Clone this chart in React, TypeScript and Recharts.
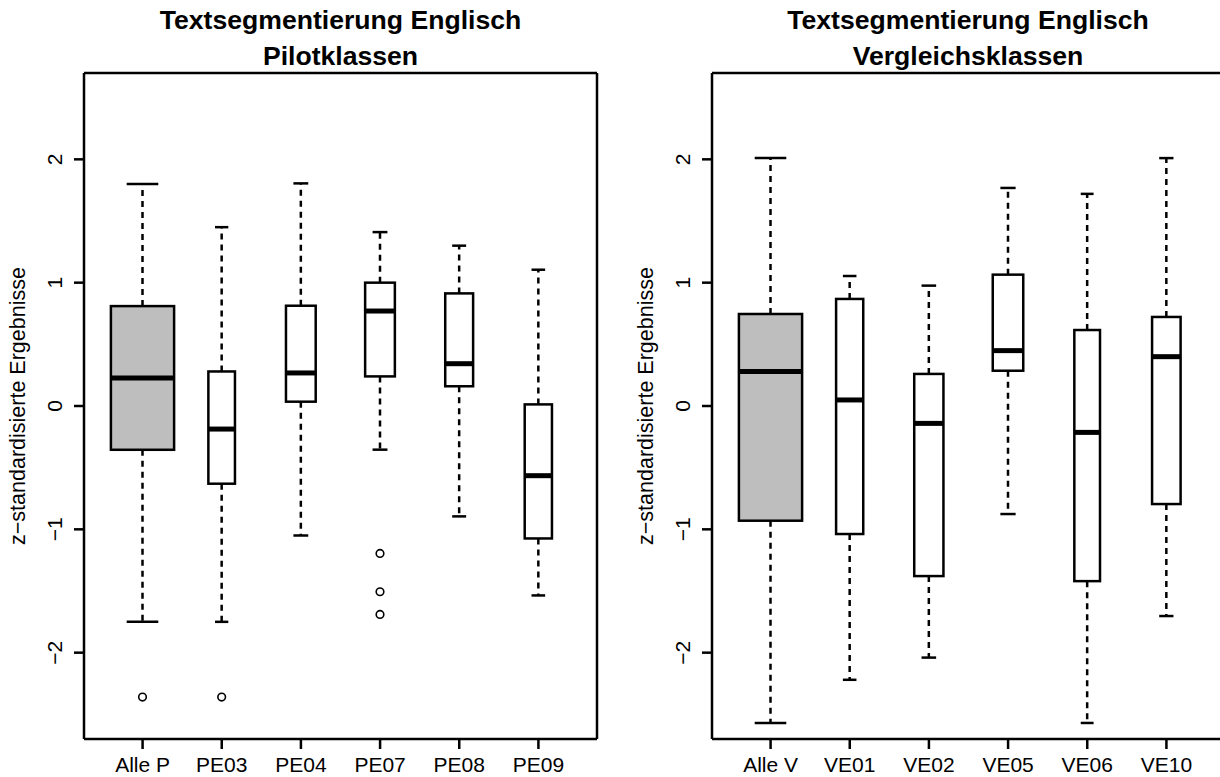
import React from "react";
import { ComposedChart, Bar, XAxis, YAxis } from "recharts";

// five-number summaries (z-scores)
const pilotNames = ["Alle P", "PE03", "PE04", "PE07", "PE08", "PE09"];
const pilotLow = [-1.75, -1.75, -1.05, -0.354, -0.895, -1.536];
const pilotQ1 = [-0.355, -0.63, 0.035, 0.24, 0.16, -1.074];
const pilotMedian = [0.227, -0.187, 0.268, 0.77, 0.343, -0.565];
const pilotQ3 = [0.81, 0.28, 0.813, 1.0, 0.913, 0.013];
const pilotHigh = [1.8, 1.45, 1.805, 1.41, 1.3, 1.105];
const pilotN = [113, 20, 25, 25, 22, 21];
const pilotOutliers = [[-2.36], [-2.36], [], [-1.195, -1.506, -1.69], [], []];

const vglNames = ["Alle V", "VE01", "VE02", "VE05", "VE06", "VE10"];
const vglLow = [-2.57, -2.22, -2.04, -0.876, -2.57, -1.703];
const vglQ1 = [-0.93, -1.038, -1.379, 0.286, -1.42, -0.795];
const vglMedian = [0.28, 0.049, -0.141, 0.449, -0.214, 0.4];
const vglQ3 = [0.746, 0.868, 0.26, 1.065, 0.616, 0.722];
const vglHigh = [2.01, 1.054, 0.976, 1.768, 1.72, 2.01];
const vglN = [103, 19, 22, 24, 17, 21];
const vglOutliers: number[][] = [[], [], [], [], [], []];

const yTicks = [-2, -1, 0, 1, 2];
const yDomain: [number, number] = [-2.7, 2.7];

const FONT = "'Liberation Sans', Arial, Helvetica, sans-serif";
const LINE = 2.5;

type Row = {
  name: string;
  low: number;
  q1: number;
  median: number;
  q3: number;
  high: number;
  n: number;
  outliers: number[];
};

function buildRows(
  names: string[],
  low: number[],
  q1: number[],
  median: number[],
  q3: number[],
  high: number[],
  n: number[],
  outliers: number[][]
): Row[] {
  return names.map((name, i) => ({
    name,
    low: low[i],
    q1: q1[i],
    median: median[i],
    q3: q3[i],
    high: high[i],
    n: n[i],
    outliers: outliers[i],
  }));
}

const fmt = (v: number) => (v < 0 ? "\u2212" + Math.abs(v) : String(v));

function YTick({ x, y, payload }: any) {
  return (
    <text
      x={x}
      y={y}
      transform={`rotate(-90 ${x} ${y})`}
      textAnchor="middle"
      fontSize={21}
      fontFamily={FONT}
      fill="#000"
    >
      {fmt(payload.value)}
    </text>
  );
}

// the bar spans low..high whisker; everything else is placed on the same linear scale
function BoxShape(props: any) {
  const { x, y, width, height, payload, index, nMax } = props;
  const { low, q1, median, q3, high, n, outliers } = payload as Row;
  const cx = x + width / 2;
  const toY = (v: number) => y + ((high - v) / (high - low)) * height;
  const half = 0.4 * width * Math.sqrt(n / nMax); // varwidth
  const cap = half / 2;
  const fill = index === 0 ? "#BEBEBE" : "#FFFFFF";
  return (
    <g>
      <line x1={cx} x2={cx} y1={toY(q3)} y2={toY(high)} stroke="#000" strokeWidth={LINE} strokeDasharray="6 5" />
      <line x1={cx} x2={cx} y1={toY(q1)} y2={toY(low)} stroke="#000" strokeWidth={LINE} strokeDasharray="6 5" />
      <line x1={cx - cap} x2={cx + cap} y1={toY(high)} y2={toY(high)} stroke="#000" strokeWidth={LINE} />
      <line x1={cx - cap} x2={cx + cap} y1={toY(low)} y2={toY(low)} stroke="#000" strokeWidth={LINE} />
      <rect
        x={cx - half}
        y={toY(q3)}
        width={half * 2}
        height={toY(q1) - toY(q3)}
        fill={fill}
        stroke="#000"
        strokeWidth={LINE}
      />
      <line x1={cx - half} x2={cx + half} y1={toY(median)} y2={toY(median)} stroke="#000" strokeWidth={5} />
      {outliers.map((o, k) => (
        <circle key={k} cx={cx} cy={toY(o)} r={3.8} fill="none" stroke="#000" strokeWidth={1.6} />
      ))}
    </g>
  );
}

function BoxPanel({ rows, title, sub }: { rows: Row[]; title: string; sub: string }) {
  const nMax = Math.max(...rows.map((r) => r.n));
  return (
    <div style={{ position: "relative", width: 610, height: 777 }}>
      <div
        style={{
          position: "absolute",
          left: 84,
          width: 513,
          top: 2,
          textAlign: "center",
          fontFamily: FONT,
          fontWeight: "bold",
          fontSize: 26.6,
          lineHeight: "36px",
          color: "#000",
        }}
      >
        <div>{title}</div>
        <div>{sub}</div>
      </div>
      <ComposedChart
        width={610}
        height={777}
        data={rows}
        margin={{ top: 72, right: 12, bottom: 0, left: 0 }}
        barCategoryGap={0}
        style={{ position: "absolute", left: 0, top: 0 }}
      >
        <XAxis
          dataKey="name"
          height={38}
          padding={{ left: 19, right: 19 }}
          tickSize={10}
          tickMargin={8}
          interval={0}
          axisLine={{ stroke: "#000", strokeWidth: LINE }}
          tickLine={{ stroke: "#000", strokeWidth: LINE }}
          tick={{ fill: "#000", fontSize: 21, fontFamily: FONT }}
        />
        <XAxis
          xAxisId="frame"
          dataKey="name"
          orientation="top"
          height={1}
          tick={false}
          tickLine={false}
          axisLine={{ stroke: "#000", strokeWidth: LINE }}
        />
        <YAxis
          type="number"
          domain={yDomain}
          ticks={yTicks}
          width={84}
          tickSize={10}
          tickMargin={12}
          axisLine={{ stroke: "#000", strokeWidth: LINE }}
          tickLine={{ stroke: "#000", strokeWidth: LINE }}
          tick={<YTick />}
          label={(p: any) => {
            const vb = p.viewBox || { x: 0, y: 73, height: 666 };
            const lx = vb.x + 25;
            const ly = vb.y + vb.height / 2;
            return (
              <text
                x={lx}
                y={ly}
                transform={`rotate(-90 ${lx} ${ly})`}
                textAnchor="middle"
                fontSize={21.5}
                fontFamily={FONT}
                fill="#000"
              >
                {"z\u2212standardisierte Ergebnisse"}
              </text>
            );
          }}
        />
        <YAxis
          yAxisId="frame"
          orientation="right"
          width={1}
          domain={[0, 1]}
          tick={false}
          tickLine={false}
          axisLine={{ stroke: "#000", strokeWidth: LINE }}
        />
        <Bar
          dataKey={(d: Row) => [d.low, d.high]}
          isAnimationActive={false}
          shape={(p: any) => <BoxShape {...p} nMax={nMax} />}
        />
      </ComposedChart>
    </div>
  );
}

export default function App() {
  const pilotRows = buildRows(pilotNames, pilotLow, pilotQ1, pilotMedian, pilotQ3, pilotHigh, pilotN, pilotOutliers);
  const vglRows = buildRows(vglNames, vglLow, vglQ1, vglMedian, vglQ3, vglHigh, vglN, vglOutliers);
  return (
    <div
      style={{
        position: "absolute",
        left: 0,
        top: 0,
        width: 1220,
        height: 777,
        overflow: "hidden",
        background: "#fff",
      }}
    >
      <div style={{ position: "absolute", left: 0, top: 0 }}>
        <BoxPanel rows={pilotRows} title="Textsegmentierung Englisch" sub="Pilotklassen" />
      </div>
      <div style={{ position: "absolute", left: 627.5, top: 0 }}>
        <BoxPanel rows={vglRows} title="Textsegmentierung Englisch" sub="Vergleichsklassen" />
      </div>
    </div>
  );
}
